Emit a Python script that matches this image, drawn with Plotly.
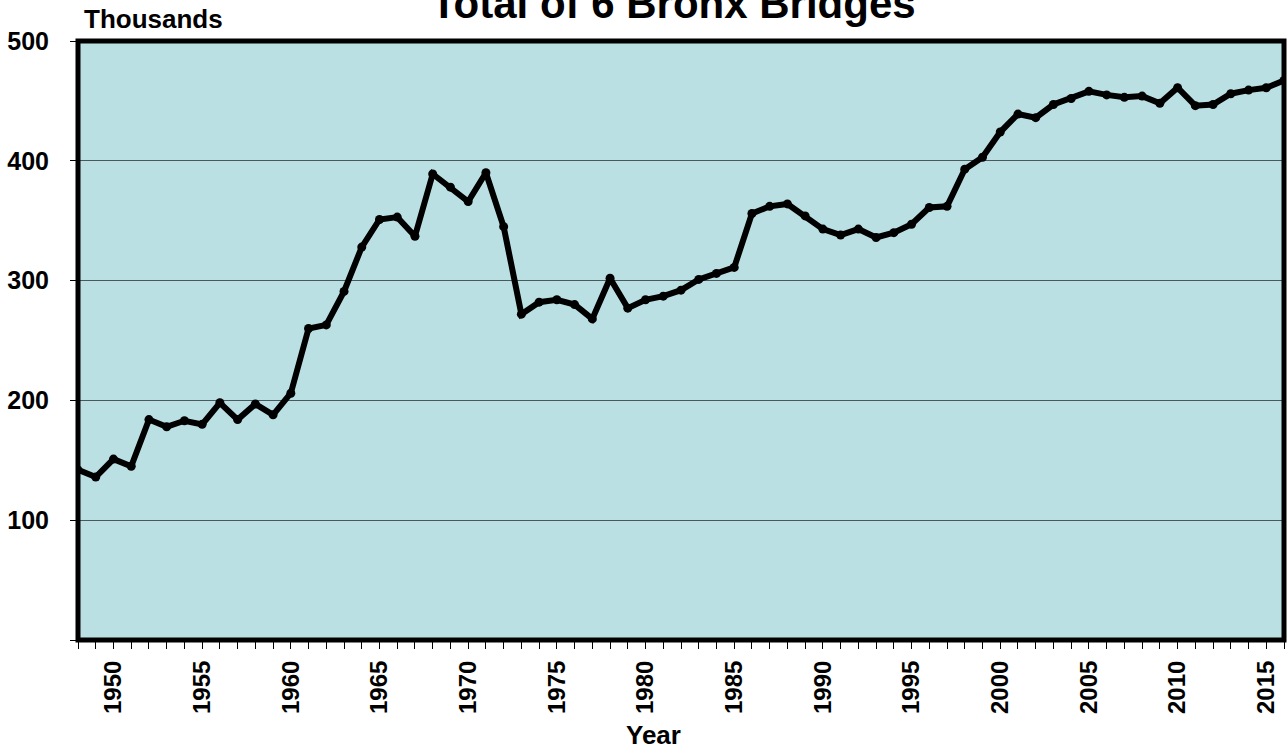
import plotly.graph_objects as go

years = list(range(1948, 2017))
traffic_thousands = [
    142, 136, 151, 145, 184, 178, 183, 180, 198, 184,
    197, 188, 206, 260, 263, 291, 328, 351, 353, 337,
    389, 378, 366, 390, 345, 272, 282, 284, 280, 268,
    302, 277, 284, 287, 292, 301, 306, 311, 356, 362,
    364, 354, 343, 338, 343, 336, 340, 347, 361, 362,
    393, 403, 424, 439, 436, 447, 452, 458, 455, 453,
    454, 448, 461, 446, 447, 456, 459, 461, 467,
]
x_tick_vals = [1950, 1955, 1960, 1965, 1970, 1975, 1980, 1985, 1990, 1995, 2000, 2005, 2010, 2015]
y_tick_vals = [0, 100, 200, 300, 400, 500]
y_tick_text = ["", "100", "200", "300", "400", "500"]

FONT = "Arial, 'Liberation Sans', sans-serif"

fig = go.Figure()
fig.add_trace(go.Scatter(
    x=years, y=traffic_thousands, mode="lines+markers",
    line=dict(color="black", width=6),
    marker=dict(color="black", size=9),
    showlegend=False,
))

fig.update_layout(
    width=1288, height=753,
    margin=dict(l=78, r=4, t=41, b=113),
    paper_bgcolor="white",
    plot_bgcolor="#BAE0E4",
    font=dict(family=FONT, color="black"),
    xaxis=dict(
        range=[1948, 2016], tickmode="array", tickvals=x_tick_vals,
        ticktext=[str(v) for v in x_tick_vals],
        tickangle=-90, ticks="outside", ticklen=8, tickcolor="black",
        tickfont=dict(family=FONT, size=24, color="black", weight="bold"),
        showgrid=False, zeroline=False, showline=False,
        minor=dict(dtick=1, tick0=1948, ticks="outside", ticklen=8, tickcolor="black", showgrid=False),
        ticklabelstandoff=2,
    ),
    yaxis=dict(
        range=[0, 500], tickmode="array", tickvals=y_tick_vals, ticktext=y_tick_text,
        ticks="outside", ticklen=7, tickcolor="black",
        tickfont=dict(family=FONT, size=25, color="black", weight="bold"),
        showgrid=True, gridcolor="#4A5A5C", gridwidth=1,
        zeroline=False, showline=False,
        ticklabelstandoff=16,
    ),
    shapes=[dict(type="rect", xref="paper", yref="paper", x0=0, y0=0, x1=1, y1=1,
                 line=dict(color="black", width=5), fillcolor="rgba(0,0,0,0)", layer="above")],
    annotations=[
        dict(text="<b>Total of 6 Bronx Bridges</b>", xref="paper", yref="paper",
             x=0.494, y=1, yanchor="bottom", yshift=12, showarrow=False,
             font=dict(family=FONT, size=42, color="black")),
        dict(text="<b>Thousands</b>", xref="paper", yref="paper",
             x=0.0033, xanchor="left", y=1, yanchor="bottom", yshift=5, showarrow=False,
             font=dict(family=FONT, size=26, color="black")),
        dict(text="<b>Year</b>", xref="paper", yref="paper",
             x=0.477, y=0, yanchor="top", yshift=-78, showarrow=False,
             font=dict(family=FONT, size=26, color="black")),
    ],
)

fig.write_html("out.html", config={"displayModeBar": False},
               post_script="document.body.style.margin='0';document.body.style.overflow='hidden';")
